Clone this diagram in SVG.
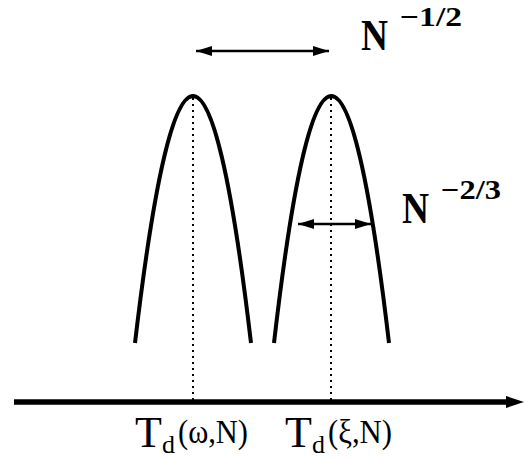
<svg xmlns="http://www.w3.org/2000/svg" width="524" height="458" viewBox="0 0 524 458">
<style>
.curve{fill:none;stroke:#000;stroke-width:4}
.dot{stroke:#000;stroke-width:2;stroke-dasharray:2,4}
.arr{stroke:#000;stroke-width:2.5;fill:none}
.lbl{font-family:"Liberation Serif",serif;fill:#000}
.b{font-weight:bold}
</style>
<defs>
<marker id="ahs" markerWidth="16" markerHeight="10" refX="16" refY="5" orient="auto-start-reverse" markerUnits="userSpaceOnUse">
<path d="M0,0 L16,5 L0,10 Z" fill="#000"/>
</marker>
</defs>
<g id="connectors">
<line class="dot" x1="193" y1="98" x2="193" y2="400"/>
<line class="dot" x1="331" y1="98" x2="331" y2="400"/>
<line x1="14" y1="402" x2="510" y2="402" stroke="#000" stroke-width="5.5"/>
<path d="M506,396 L524,402 L506,408 Z" fill="#000"/>
<line class="arr" x1="196" y1="51" x2="329" y2="51" marker-start="url(#ahs)" marker-end="url(#ahs)"/>
<line class="arr" x1="298" y1="224" x2="371" y2="224" marker-start="url(#ahs)" marker-end="url(#ahs)"/>
</g>
<g id="peak-left">
<path class="curve" d="M135,343 Q193,-151 251,343"/>
</g>
<g id="peak-right">
<path class="curve" d="M274,343 Q331,-151 389,343"/>
</g>
<g id="label-top">
<text class="lbl b" x="361" y="50" font-size="45" textLength="27" lengthAdjust="spacingAndGlyphs">N</text>
<text class="lbl b" x="400" y="26" font-size="28" textLength="62" lengthAdjust="spacingAndGlyphs">−1/2</text>
</g>
<g id="label-mid">
<text class="lbl b" x="402" y="223" font-size="45" textLength="27" lengthAdjust="spacingAndGlyphs">N</text>
<text class="lbl b" x="441" y="199" font-size="28" textLength="60" lengthAdjust="spacingAndGlyphs">−2/3</text>
</g>
<g id="label-omega">
<text class="lbl" x="135" y="447" font-size="44">T</text>
<text class="lbl" x="162" y="453" font-size="26">d</text>
<text class="lbl" x="178" y="443" font-size="33" textLength="70" lengthAdjust="spacingAndGlyphs">(ω,N)</text>
</g>
<g id="label-xi">
<text class="lbl" x="285" y="447" font-size="44">T</text>
<text class="lbl" x="312" y="453" font-size="26">d</text>
<text class="lbl" x="328" y="443" font-size="33" textLength="64" lengthAdjust="spacingAndGlyphs">(ξ,N)</text>
</g>
</svg>
